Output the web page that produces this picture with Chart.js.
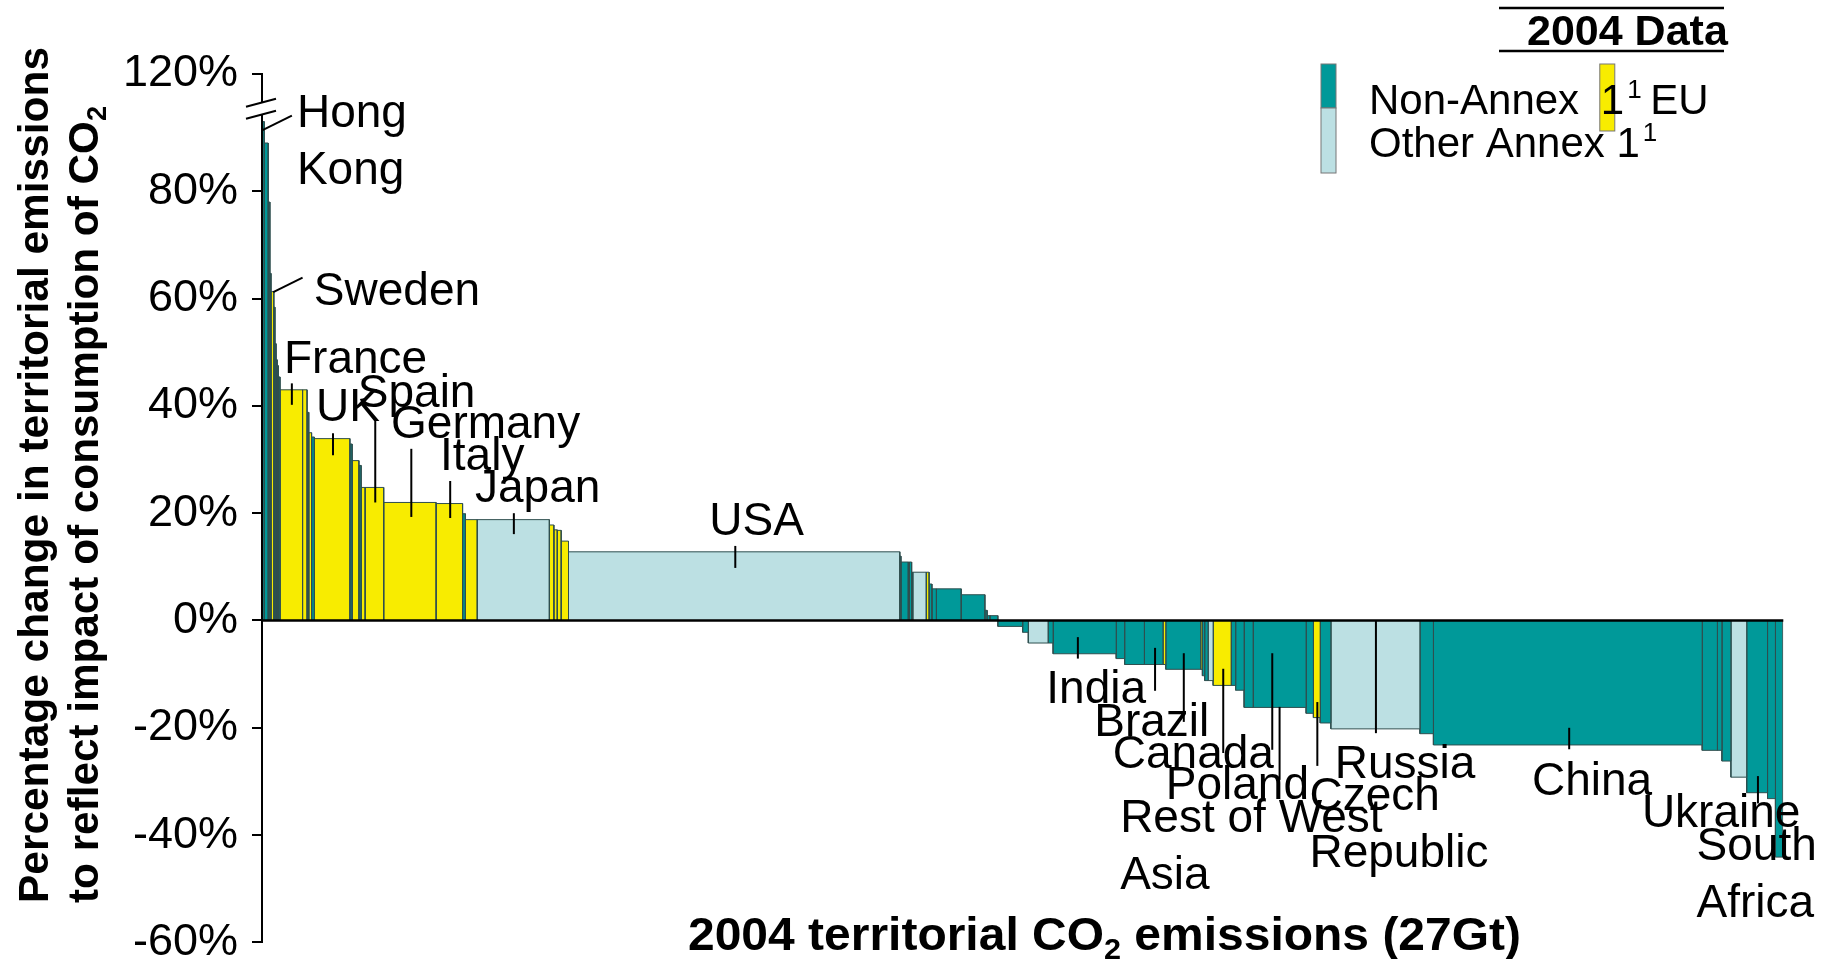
<!DOCTYPE html>
<html>
<head>
<meta charset="utf-8">
<script src="https://cdn.jsdelivr.net/npm/chart.js@4.4.1/dist/chart.umd.min.js"></script>
<style>
  html, body { margin: 0; padding: 0; background: #fff; }
  #wrap { width: 1839px; height: 959px; }
</style>
</head>
<body>
<div id="wrap"><canvas id="co2-chart" width="1839" height="959"></canvas></div>
<script>
// 2004 territorial emissions per country (Gt) and % change when consumption is counted
// group: N = Non-Annex 1, E = EU, O = Other Annex 1
const emissions = [
  0.04, 0.07, 0.03, 0.02, 0.05, 0.02, 0.02, 0.02, 0.02, 0.03,
  0.40, 0.08, 0.03, 0.05, 0.05, 0.63, 0.04, 0.12, 0.04, 0.07,
  0.33, 0.93, 0.47, 0.05, 0.21, 1.28, 0.08, 0.06, 0.07, 0.13,
  5.88, 0.02, 0.13, 0.02, 0.04, 0.02, 0.24, 0.05, 0.05, 0.08,
  0.44, 0.42, 0.04, 0.05, 0.14, 0.44, 0.10, 0.35, 0.09, 1.12,
  0.15, 0.35, 0.33, 0.05, 0.62, 0.03, 0.04, 0.06, 0.09, 0.32,
  0.08, 0.15, 0.16, 0.94, 0.13, 0.12, 0.19, 1.58, 0.24, 4.77,
  0.27, 0.08, 0.16, 0.28, 0.37, 0.14, 0.13
];
const changes = [
  93.0, 89.0, 78.0, 64.7, 61.3, 58.4, 51.6, 48.6, 47.5, 45.4,
  43.0, 43.0, 38.8, 35.0, 34.2, 33.9, 32.9, 29.8, 28.9, 24.8,
  24.8, 22.0, 21.8, 19.9, 18.8, 18.8, 17.8, 16.9, 16.8, 14.8,
  12.8, 12.0, 10.9, 10.9, 10.9, 9.0, 9.0, 9.0, 6.8, 5.9,
  5.9, 4.8, 1.9, 0.9, 0.9, -1.1, -2.2, -4.2, -4.2, -6.2,
  -7.1, -8.2, -8.2, -8.2, -9.1, -9.1, -10.3, -11.2, -11.2, -12.1,
  -12.1, -13.0, -16.2, -16.2, -17.3, -18.1, -19.1, -20.2, -21.1, -23.2,
  -24.2, -24.2, -26.2, -29.2, -32.1, -33.2, -44.1
];
const groups = (
  "NNNNENNNNN" + "EENENENENE" + "EEENEOEEEE" + "OONNNNOENN" +
  "NNNNNNNONN" + "NNNENENNOE" + "NNNNNENONN" + "NNNONNN"
).split("");

const tickValues = [-60, -40, -20, 0, 20, 40, 60, 80, 101.9];
const tickLabels = ["-60%", "-40%", "-20%", "0%", "20%", "40%", "60%", "80%", "120%"];
const totalGt = 27;

// country labels: text lines, position (cumulative Gt, %) of first baseline
const labelNames = ["Hong|Kong", "Sweden", "France", "UK", "Spain", "Germany", "Italy", "Japan", "USA",
  "India", "Brazil", "Canada", "Poland", "Rest of West|Asia", "Czech|Republic", "Russia", "China", "Ukraine", "South|Africa"];
const labelAt = [[0.62, 91.9], [0.92, 58.8], [0.39, 46.2], [0.96, 37.1], [1.70, 39.8], [2.29, 34.1], [3.16, 28.1],
  [3.78, 22.1], [7.94, 15.9], [13.92, -15.4], [14.77, -21.5], [15.10, -27.5], [16.04, -33.3], [15.23, -39.5],
  [18.59, -35.3], [19.04, -29.4], [22.54, -32.5], [24.49, -38.5], [25.46, -44.6]];
// leader lines: [x0, y0, x1, y1] in (Gt, %)
const leaders = [
  [0.01, 91.4, 0.53, 94.1], [0.20, 61.2, 0.72, 63.9], [0.53, 44.2, 0.53, 40.2], [1.26, 34.9, 1.26, 30.8],
  [2.01, 37.4, 2.01, 22.0], [2.65, 32.0, 2.65, 19.3], [3.34, 26.0, 3.34, 19.1], [4.47, 20.0, 4.47, 16.1],
  [8.40, 13.9, 8.40, 9.8], [14.48, -3.1, 14.48, -7.1], [15.85, -5.1, 15.85, -13.1], [16.36, -6.1, 16.36, -18.9],
  [17.06, -9.0, 17.06, -24.7], [17.93, -6.1, 17.93, -24.1], [18.06, -16.1, 18.06, -29.7], [18.73, -15.2, 18.73, -27.1],
  [19.77, 0, 19.77, -21.0], [23.20, -20.0, 23.20, -24.0], [26.55, -29.0, 26.55, -34.1]
];

const colors = { N: "#009999", E: "#f8ec00", O: "#bce0e3" };
const edge = "#2f4f4f";
const fontFam = "'Liberation Sans', Arial, sans-serif";

// each bar is a closed-at-axis rectangle on linear x (cumulative Gt)
let cum = 0;
const datasets = emissions.map(function(w, i) {
  const x0 = cum, x1 = cum + w, v = changes[i];
  cum = x1;
  return {
    data: [{x: x0, y: 0}, {x: x0, y: v}, {x: x1, y: v}, {x: x1, y: 0}],
    showLine: true,
    fill: "origin",
    backgroundColor: colors[groups[i]],
    borderColor: edge,
    borderWidth: 1,
    pointRadius: 0,
    tension: 0
  };
});

function fitText(ctx, parts, x, y, target) {
  let total = 0;
  parts.forEach(function(p) { ctx.font = p.font; total += ctx.measureText(p.t).width; });
  const s = target ? target / total : 1;
  ctx.save();
  ctx.translate(x, y);
  ctx.scale(s, 1);
  let cx = 0;
  parts.forEach(function(p) {
    ctx.font = p.font;
    ctx.fillText(p.t, cx, p.dy || 0);
    cx += ctx.measureText(p.t).width;
  });
  ctx.restore();
}

const overlay = {
  id: "overlay",
  afterDatasetsDraw(chart) {
    const ctx = chart.ctx, xs = chart.scales.x, ys = chart.scales.y, a = chart.chartArea;
    const y0 = ys.getPixelForValue(0);
    ctx.save();
    ctx.strokeStyle = "#000";
    ctx.fillStyle = "#000";

    // zero line and y axis
    ctx.lineWidth = 2.5;
    ctx.beginPath();
    ctx.moveTo(a.left, y0); ctx.lineTo(xs.getPixelForValue(totalGt), y0);
    ctx.stroke();
    ctx.lineWidth = 2;
    ctx.beginPath();
    ctx.moveTo(a.left, a.top); ctx.lineTo(a.left, a.bottom);
    ctx.stroke();

    // axis break
    const bx = a.left, by = ys.getPixelForValue(96.5);
    ctx.fillStyle = "#fff";
    ctx.beginPath();
    ctx.moveTo(bx - 16, by + 4); ctx.lineTo(bx + 14, by - 4);
    ctx.lineTo(bx + 14, by + 8); ctx.lineTo(bx - 16, by + 16);
    ctx.closePath(); ctx.fill();
    ctx.beginPath();
    ctx.moveTo(bx - 16, by + 4); ctx.lineTo(bx + 14, by - 4);
    ctx.moveTo(bx - 16, by + 16); ctx.lineTo(bx + 14, by + 8);
    ctx.stroke();

    // leader lines
    ctx.lineWidth = 2;
    leaders.forEach(function(l) {
      ctx.beginPath();
      ctx.moveTo(xs.getPixelForValue(l[0]), ys.getPixelForValue(l[1]));
      ctx.lineTo(xs.getPixelForValue(l[2]), ys.getPixelForValue(l[3]));
      ctx.stroke();
    });

    // country labels
    ctx.fillStyle = "#000";
    ctx.font = "46px " + fontFam;
    ctx.textBaseline = "alphabetic";
    labelNames.forEach(function(n, i) {
      const px = xs.getPixelForValue(labelAt[i][0]), py = ys.getPixelForValue(labelAt[i][1]);
      n.split("|").forEach(function(line, k) {
        ctx.fillText(line, px, py + k * 57);
      });
    });

    // legend
    ctx.lineWidth = 2.5;
    ctx.beginPath();
    ctx.moveTo(1499, 8); ctx.lineTo(1724, 8);
    ctx.moveTo(1499, 51); ctx.lineTo(1724, 51);
    ctx.stroke();
    ctx.font = "bold 43px " + fontFam;
    ctx.fillText("2004 Data", 1527, 45);

    ctx.lineWidth = 1;
    ctx.strokeStyle = "#777";
    ctx.fillStyle = colors.N; ctx.fillRect(1321, 64, 15, 44); ctx.strokeRect(1321, 64, 15, 44);
    ctx.fillStyle = colors.O; ctx.fillRect(1321, 108, 15, 65); ctx.strokeRect(1321, 108, 15, 65);
    ctx.font = "42px " + fontFam;
    const x1 = 1369 + ctx.measureText("Non-Annex ").width + 10;
    const wOne = ctx.measureText("1").width;
    const w3 = ctx.measureText("Other Annex 1").width;
    ctx.fillStyle = colors.E; ctx.fillRect(x1 - 1, 64, 15, 67); ctx.strokeRect(x1 - 1, 64, 15, 67);
    ctx.fillStyle = "#000";
    ctx.fillText("Non-Annex", 1369, 114);
    ctx.fillText("1", x1, 114);
    ctx.fillText("EU", x1 + wOne + 26, 114);
    ctx.fillText("Other Annex 1", 1369, 157);
    ctx.font = "26px " + fontFam;
    ctx.fillText("1", x1 + wOne + 3, 98);
    ctx.fillText("1", 1369 + w3 + 3, 141);

    // axis titles
    const b47 = "bold 47px " + fontFam, b30 = "bold 30px " + fontFam;
    fitText(ctx, [{t: "2004 territorial CO", font: b47}, {t: "2", font: b30, dy: 9},
      {t: " emissions (27Gt)", font: b47}], 688, 950, 833);
    ctx.save();
    ctx.translate(48, 903);
    ctx.rotate(-Math.PI / 2);
    const b42 = "bold 42px " + fontFam, b27 = "bold 27px " + fontFam;
    fitText(ctx, [{t: "Percentage change in territorial emissions", font: b42}], 0, 0, 856);
    fitText(ctx, [{t: "to reflect impact of consumption of CO", font: b42}, {t: "2", font: b27, dy: 8}], 0, 50, 797);
    ctx.restore();

    ctx.restore();
  }
};

new Chart(document.getElementById("co2-chart"), {
  type: "scatter",
  data: { datasets: datasets },
  options: {
    responsive: false,
    maintainAspectRatio: false,
    devicePixelRatio: 1,
    animation: false,
    layout: { padding: { left: 0, right: 55.7, top: 73.8, bottom: 16.6 } },
    plugins: { legend: { display: false }, tooltip: { enabled: false } },
    scales: {
      x: { type: "linear", min: 0, max: totalGt, display: false },
      y: {
        min: -60, max: tickValues[tickValues.length - 1],
        afterBuildTicks: function(s) { s.ticks = tickValues.map(function(v) { return {value: v}; }); },
        afterFit: function(s) { s.width = 262; s.paddingTop = 0; s.paddingBottom = 0; },
        ticks: {
          callback: function(v, i) { return tickLabels[i]; },
          font: { family: "'Liberation Sans', Arial, sans-serif", size: 45 },
          color: "#000",
          padding: 14
        },
        grid: { drawOnChartArea: false, tickLength: 10, color: "#000", lineWidth: 2 },
        border: { display: true, color: "#000", width: 2 }
      }
    }
  },
  plugins: [overlay]
});
</script>
</body>
</html>
